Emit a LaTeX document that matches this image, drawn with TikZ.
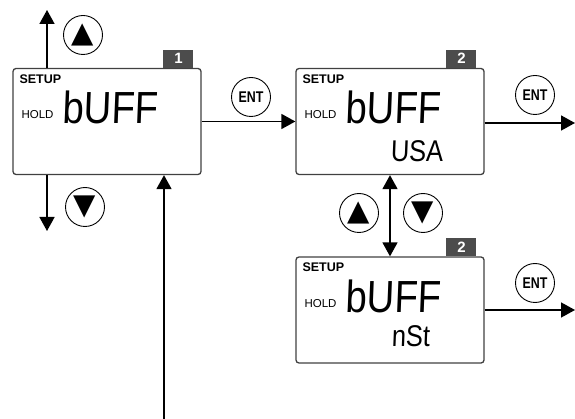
\documentclass[tikz,border=0pt]{standalone}
\usepackage{fontspec}
\setmainfont{Liberation Sans}
\newfontfamily\segfont[FakeSlant=0.04,FakeStretch=0.85]{Liberation Sans}
\newfontfamily\condfont[FakeStretch=0.8]{Liberation Sans}
\newfontfamily\symfont{DejaVu Sans}
\usetikzlibrary{arrows.meta}

\begin{document}
\begin{tikzpicture}[x=1pt,y=-1pt,>={Triangle[length=14pt,width=15pt]},
  lcd/.style={rectangle,draw=black!75,line width=1.3pt,rounded corners=3pt,minimum width=188pt,minimum height=106pt,inner sep=0pt},
  tag/.style={rectangle,fill=black!70,text=white,font=\bfseries\fontsize{15}{15}\selectfont,minimum width=30pt,minimum height=18pt,inner sep=0pt,anchor=south east},
  setup/.style={anchor=west,inner sep=0pt,font=\bfseries\fontsize{12.5}{13}\selectfont},
  hold/.style={anchor=west,inner sep=0pt,font=\fontsize{11.5}{12}\selectfont},
  big/.style={anchor=west,inner sep=0pt,font=\segfont\fontsize{45}{45}\selectfont},
  small/.style={anchor=west,inner sep=0pt,font=\segfont\fontsize{30}{30}\selectfont},
  btn/.style={circle,draw=black,line width=0.9pt,minimum size=39pt,inner sep=0pt},
  arrowkey/.style={btn,font=\symfont\fontsize{29}{29}\selectfont},
  entkey/.style={btn,font=\condfont\bfseries\fontsize{15.5}{16}\selectfont},
  flow/.style={draw=black,line width=1.6pt}]
\useasboundingbox (0,0) rectangle (575,419);

% displays
\node[lcd] (b1) at (107,121.5) {};
\node[lcd] (b2) at (390,121.5) {};
\node[lcd] (b3) at (390,310) {};
\node[tag] (t1) at ([xshift=-8pt]b1.north east) {1};
\node[tag] (t2) at ([xshift=-8pt]b2.north east) {2};
\node[tag] (t3) at ([xshift=-8pt]b3.north east) {2};

\foreach \b in {b1,b2,b3}{
  \node[setup] (\b-setup) at ([xshift=7pt,yshift=-11pt]\b.north west) {SETUP};
  \node[hold] (\b-hold) at ([xshift=9pt,yshift=-47pt]\b.north west) {HOLD};
  \node[big] (\b-buff) at ([xshift=50pt,yshift=-40pt]\b.north west) {bUFF};
}
\node[small] (b2-val) at ([xshift=95pt,yshift=-83pt]b2.north west) {USA};
\node[small] (b3-val) at ([xshift=96pt,yshift=-80pt]b3.north west) {nSt};

% keys
\node[arrowkey] (up1) at (83,35) {▲};
\node[arrowkey] (dn1) at (85,207) {▼};
\node[arrowkey] (up2) at (359,213) {▲};
\node[arrowkey] (dn2) at (423,213) {▼};
\node[entkey] (ent1) at (251,97) {ENT};
\node[entkey] (ent2) at (535,95) {ENT};
\node[entkey] (ent3) at (535,283) {ENT};

% arrows
\coordinate (upend) at (47,10);
\coordinate (dnend) at (47,231);
\coordinate (back) at (164,419);
\coordinate (out2) at (575,123);
\coordinate (out3) at (575,310);
\draw[flow,->] (b1.north -| upend) -- (upend);
\draw[flow,->] (b1.south -| dnend) -- (dnend);
\draw[flow,->] (back) -- (back |- b1.south);
\draw[flow,->] (b1.east) -- (b2.west);
\draw[flow,<->] (b2.south) -- (b3.north);
\draw[flow,->] (b2.east |- out2) -- (out2);
\draw[flow,->] (b3.east |- out3) -- (out3);
\end{tikzpicture}
\end{document}
